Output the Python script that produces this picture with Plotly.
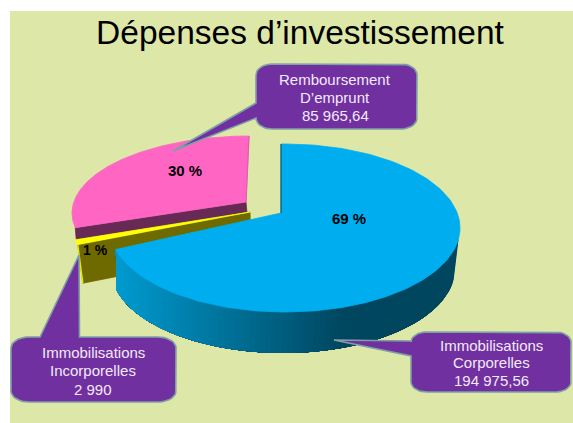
import numpy as np
import plotly.graph_objects as go

# ---- data ----
categories = ["Immobilisations Corporelles", "Immobilisations Incorporelles", "Remboursement D\u2019emprunt"]
amounts = [194975.56, 2990, 85965.64]
amount_labels = ["194 975,56", "2 990", "85 965,64"]
percent_labels = ["69 %", "1 %", "30 %"]
callout_lines = [["Immobilisations", "Corporelles"], ["Immobilisations", "Incorporelles"], ["Remboursement", "D\u2019emprunt"]]
title_text = "D\u00e9penses d\u2019investissement"

# ---- style / layout ----
W, H = 573, 423
GREEN = "#DDE7A8"
PURPLE = "#7030A0"
EDGE = "#7F9FA6"
VIEW_SHIFT = 8  # perspective correction on inner slice boundaries (deg)
BLUE_START_FIX = -1.3  # ellipse centre sits right of the apex

fracs = np.array(amounts) / sum(amounts)
cum = np.concatenate([[0], np.cumsum(fracs) * 360])
bounds = cum.copy()
bounds[1:-1] += VIEW_SHIFT

fig = go.Figure()


def ell(t, c, a, b):
    r = np.radians(t)
    return c[0] + a * np.sin(r), c[1] - b * np.cos(r)


def poly(xs, ys, color, line=None, lw=0.8):
    fig.add_trace(go.Scatter(x=list(xs), y=list(ys), mode="lines", fill="toself", fillcolor=color,
                             line=dict(color=line or color, width=lw), hoverinfo="skip", showlegend=False))


def wedge(apex, c, a, b, t0, t1, color):
    t = np.linspace(t0, t1, 160)
    ex, ey = ell(t, c, a, b)
    poly(np.r_[apex[0], ex, apex[0]], np.r_[apex[1], ey, apex[1]], color)


def lerp(c0, c1, k):
    return "rgb(%d,%d,%d)" % tuple(round(p + (q - p) * k) for p, q in zip(c0, c1))


# pink slice wall and top
pk_apex, pk_c, pk_a, pk_b = (246, 202), (249, 213), 177, 77
sx, sy = ell(bounds[2], pk_c, pk_a, pk_b)
poly([pk_apex[0], sx, sx + 1, pk_apex[0] + 1, pk_apex[0]], [pk_apex[1], sy, sy + 12, pk_apex[1] + 11, pk_apex[1]], "#662A55")
wedge(pk_apex, pk_c, pk_a, pk_b, bounds[2], bounds[3], "#FF66C4")
fig.add_trace(go.Scatter(x=[pk_apex[0], ell(360, pk_c, pk_a, pk_b)[0]], y=[pk_apex[1], ell(360, pk_c, pk_a, pk_b)[1]],
                         mode="lines", line=dict(color="#E25CB0", width=1.2), hoverinfo="skip", showlegend=False))

# yellow slice: wall, outer edge, top
ye_apex, ye_c, ye_a, ye_b = (250, 212), (248, 224), 176, 83
yx, yy = ell(bounds[1], ye_c, ye_a, ye_b)
poly([ye_apex[0], yx, yx + 5, ye_apex[0] + 1, ye_apex[0]], [ye_apex[1], yy, yy + 38, ye_apex[1] + 38, ye_apex[1]], "#6E6A00")
fig.add_trace(go.Scatter(x=[yx, yx + 5], y=[yy, yy + 38], mode="lines", line=dict(color="#E8E800", width=1.4),
                         hoverinfo="skip", showlegend=False))
wedge(ye_apex, ye_c, ye_a, ye_b, bounds[1], bounds[2], "#FFFF00")

# blue slice: gradient wall (overlapping strips, no seams) then top
bl_apex, bl_c, bl_a, bl_b = (281, 213), (285, 228), 175, 84
bot_c, bot_a, bot_b = (283, 269), 172, 84
steps = np.linspace(97, bounds[1], 90)
for t0, t1 in zip(steps[:-1], steps[1:]):
    seg = np.linspace(t0, bounds[1], 40)
    tx, ty = ell(seg, bl_c, bl_a, bl_b)
    ux, uy = ell(seg[::-1], bot_c, bot_a, bot_b)
    mx = ell((t0 + t1) / 2, bl_c, bl_a, bl_b)[0]
    k = float(np.clip((mx - 115) / (345 - 115), 0, 1))
    col = lerp((0, 155, 208), (0, 70, 95), k)
    poly(np.r_[tx, ux, tx[0]], np.r_[ty, uy, ty[0]], col, lw=0)
wedge(bl_apex, bl_c, bl_a, bl_b, bounds[0] + BLUE_START_FIX, bounds[1], "#00AEEF")
bx, by = ell(bounds[0] + BLUE_START_FIX, bl_c, bl_a, bl_b)
fig.add_trace(go.Scatter(x=[bl_apex[0], bx], y=[bl_apex[1], by], mode="lines",
                         line=dict(color="#0B4A5A", width=1), hoverinfo="skip", showlegend=False))


# callouts
def callout(x0, y0, x1, y1, rx, ry, side, p0, tip, p1):
    def arc(cx, cy, a0, a1):
        t = np.radians(np.linspace(a0, a1, 10))
        return list(cx + rx * np.cos(t)), list(cy + ry * np.sin(t))

    xs, ys = [], []

    def add(p):
        xs.extend(p[0]); ys.extend(p[1])

    ptr = ([p0[0], tip[0], p1[0]], [p0[1], tip[1], p1[1]])
    add(arc(x0 + rx, y0 + ry, 180, 270))
    if side == "top":
        add(ptr)
    add(arc(x1 - rx, y0 + ry, 270, 360))
    add(arc(x1 - rx, y1 - ry, 0, 90))
    add(arc(x0 + rx, y1 - ry, 90, 180))
    if side == "left":
        add(ptr)
    xs.append(xs[0]); ys.append(ys[0])
    poly(xs, ys, PURPLE, EDGE, 1.6)


callout(256, 64, 417, 129, 16, 11, "left", (256, 118), (173, 151), (256, 103))
callout(411, 332, 571, 392, 16, 10, "left", (411, 356), (334, 340), (411, 341))
callout(11, 337, 176, 402, 18, 11, "top", (40, 337), (79, 255), (79.5, 337))

callout_x = [491, 93, 335]
callout_y = [[345, 362.5, 380.5], [352, 370.5, 389], [79, 97, 115]]
annots = []
for lines, amt, x, ys in zip(callout_lines, amount_labels, callout_x, callout_y):
    for txt, y in zip(lines + [amt], ys):
        annots.append(dict(x=x, y=y, xref="x", yref="y", text=txt, showarrow=False,
                           font=dict(family="Liberation Sans", size=15, color="#F3EAF8")))
pct_pos = [(349, 218), (95, 250), (185, 170)]
for lab, (x, y), sz in zip(percent_labels, pct_pos, [15, 14, 15]):
    annots.append(dict(x=x, y=y, xref="x", yref="y", text=f"<b>{lab}</b>", showarrow=False,
                       font=dict(family="Liberation Sans", size=sz, color="black")))

fig.update_layout(
    width=W, height=H, paper_bgcolor="white", plot_bgcolor=GREEN,
    margin=dict(l=10, r=0, t=11, b=0, pad=0), showlegend=False, annotations=annots,
    title=dict(text=title_text, x=(300 - 10) / (W - 10), y=1 - 32 / H, xanchor="center", yanchor="middle", xref="paper", yref="container",
               font=dict(family="Liberation Sans", size=33.5, color="black")),
    xaxis=dict(range=[10, W], visible=False, fixedrange=True),
    yaxis=dict(range=[H, 11], visible=False, fixedrange=True),
)
fig.write_html("out.html", config={"displayModeBar": False},
               post_script="document.body.style.margin='0';document.body.style.overflow='hidden';")
